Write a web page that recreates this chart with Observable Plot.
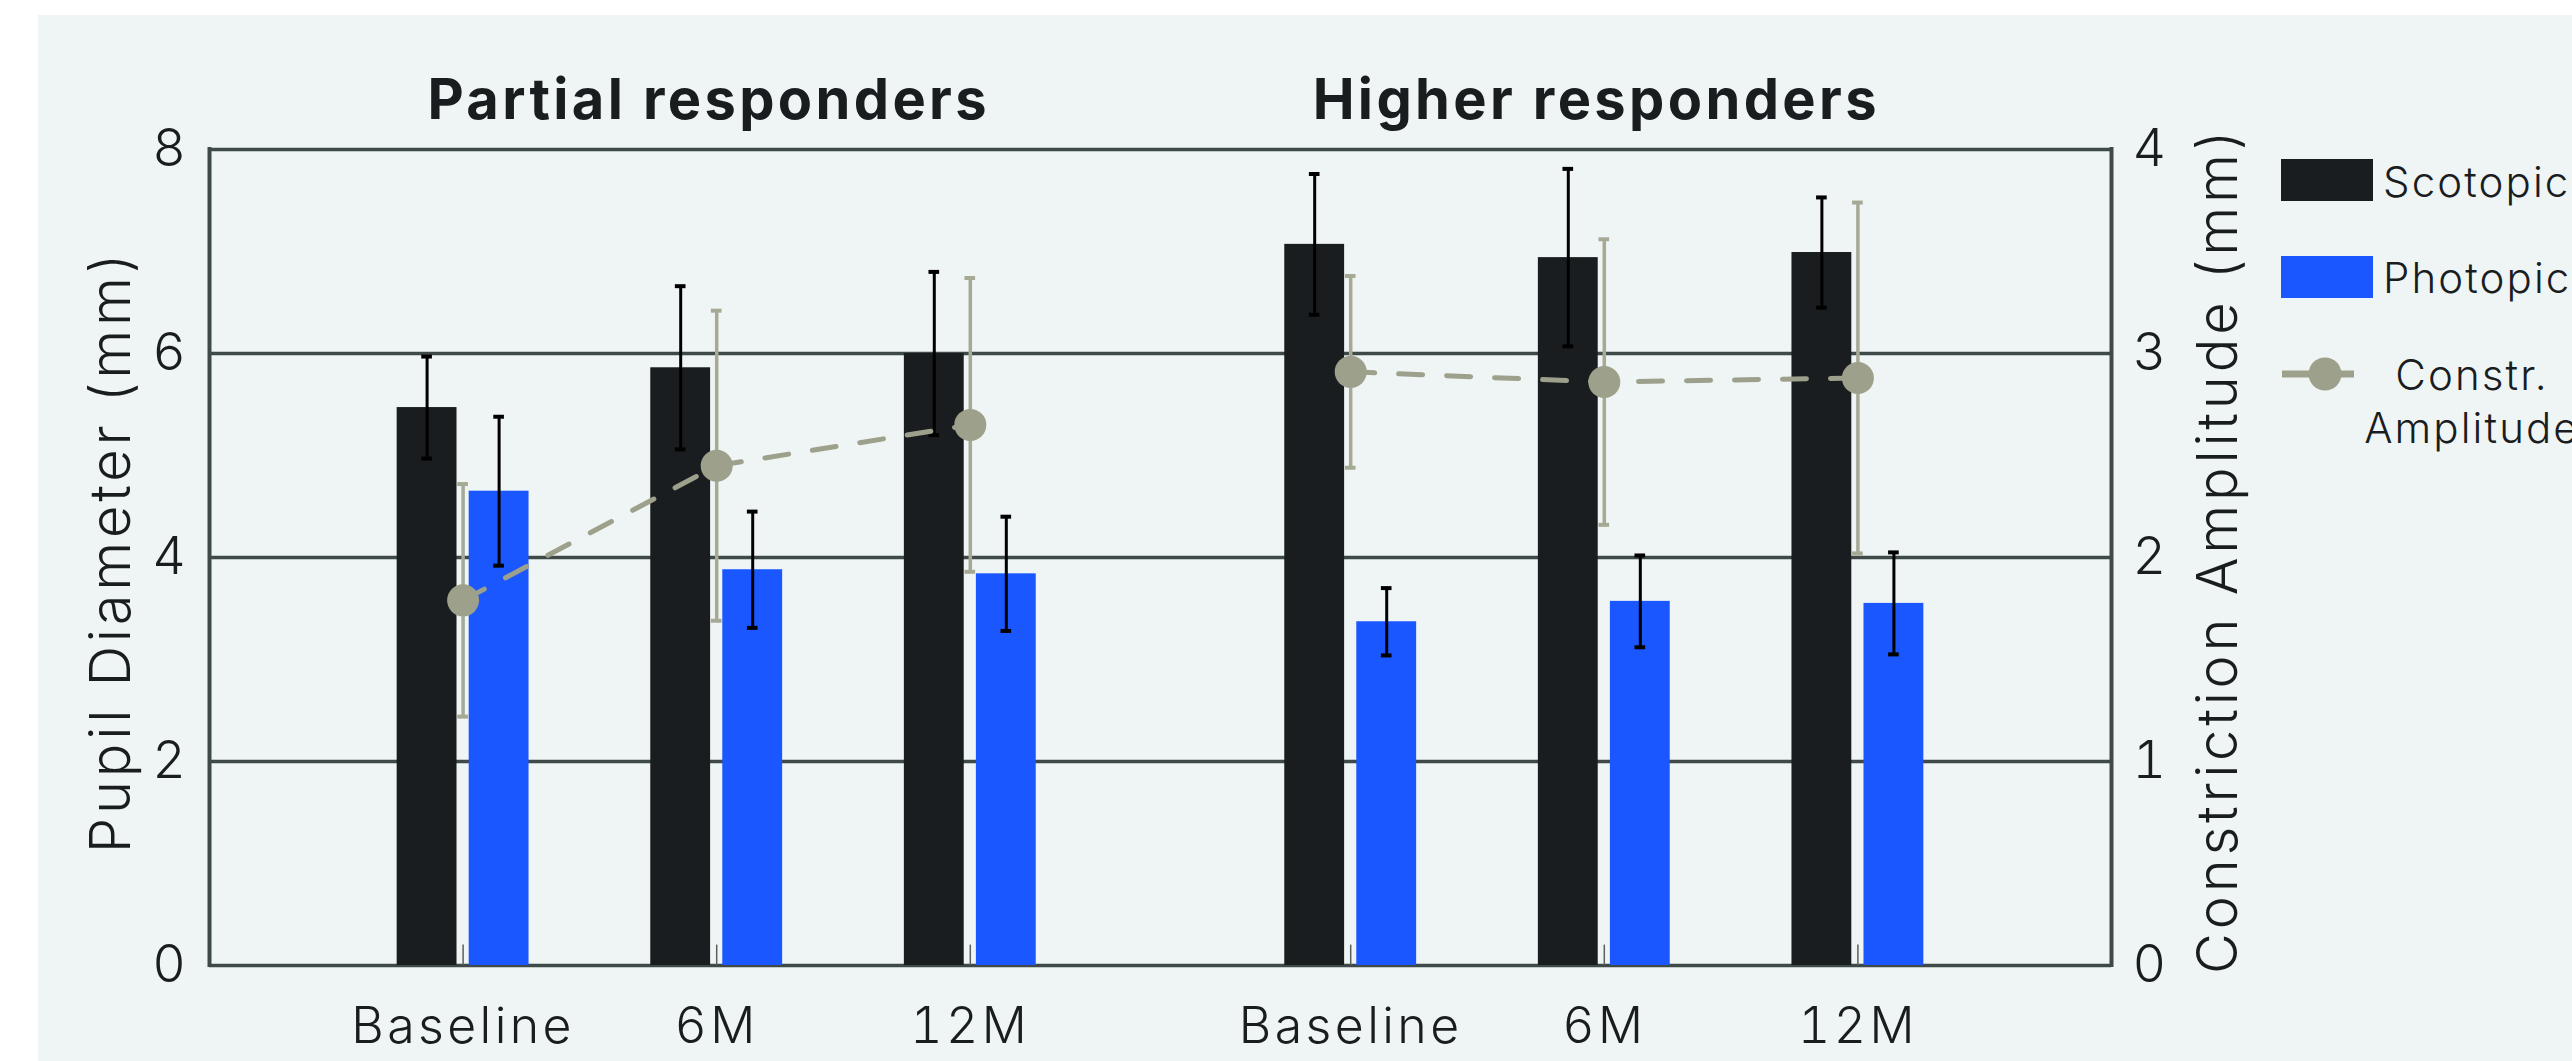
<!DOCTYPE html>
<html><head><meta charset="utf-8">
<script src="https://cdn.jsdelivr.net/npm/d3@7"></script>
<script src="https://cdn.jsdelivr.net/npm/@observablehq/plot@0.6"></script>
<style>
html,body{margin:0;padding:0;background:#fff;}
body{width:2572px;height:1061px;overflow:hidden;position:relative;font-family:Inter, "Noto Sans", sans-serif;}
#bg{position:absolute;left:38px;top:15px;right:0;bottom:0;background:#eff5f5;}
#chart{position:absolute;left:0;top:0;}
#legend{position:absolute;left:0;top:0;overflow:visible;}
</style></head><body>
<div id="bg"></div>
<div id="chart"></div>
<svg id="legend" width="2572" height="1061"></svg>
<script>
// ---- data ----
const groups = ["Partial responders", "Higher responders"];
const timepoints = ["Baseline", "6M", "12M"];
const seriesNames = ["Scotopic", "Photopic", "Constr. Amplitude"];
const scotopicMean = [5.47, 5.86, 6.00, 7.07, 6.94, 6.99];
const scotopicErr  = [0.50, 0.80, 0.80, 0.69, 0.87, 0.54];
const photopicMean = [4.65, 3.88, 3.84, 3.37, 3.57, 3.55];
const photopicErr  = [0.73, 0.57, 0.56, 0.33, 0.45, 0.50];
const constrMean   = [1.79, 2.45, 2.65, 2.91, 2.86, 2.88];
const constrErr    = [0.57, 0.76, 0.72, 0.47, 0.70, 0.86];
const leftTicks = [0, 2, 4, 6, 8];

// ---- style ----
const FONT = "Inter, 'Noto Sans', sans-serif";
const INK = "#1a1d1f";
const SCOT = "#1a1d1f", PHOT = "#1a57ff", GRAYC = "#9da08a", GRAYE = "#a6a994", GRID = "#3f4a48";
const AMP = 2;              // left-axis units per right-axis unit
const GROUP_GAP = 0.5;      // extra category slots between groups
const BW = 0.236, GAP = 0.024, CAP = 0.021;
const LIGHT = 300;

const rows = groups.flatMap((g, gi) => timepoints.map((t, ti) => {
  const i = gi * timepoints.length + ti;
  return {group: g, time: t, pos: gi * (timepoints.length + GROUP_GAP) + ti + 1,
    scot: scotopicMean[i], scotErr: scotopicErr[i],
    phot: photopicMean[i], photErr: photopicErr[i],
    constr: constrMean[i] * AMP, constrErr: constrErr[i] * AMP};
}));
const xMax = groups.length * (timepoints.length + GROUP_GAP) - GROUP_GAP + 1;
const groupCenters = groups.map(g => ({group: g, pos: d3.mean(rows.filter(r => r.group === g), r => r.pos)}));
const timeAt = new Map(rows.map(r => [r.pos, r.time]));

function errorBars(xf, mean, err, stroke, sw, capSw) {
  return [
    Plot.ruleX(rows, {x: xf, y1: d => mean(d) - err(d), y2: d => mean(d) + err(d), stroke, strokeWidth: sw}),
    Plot.ruleY(rows, {y: d => mean(d) + err(d), x1: d => xf(d) - CAP, x2: d => xf(d) + CAP, stroke, strokeWidth: capSw}),
    Plot.ruleY(rows, {y: d => mean(d) - err(d), x1: d => xf(d) - CAP, x2: d => xf(d) + CAP, stroke, strokeWidth: capSw})
  ];
}
const scotX = d => d.pos - GAP - BW / 2;
const photX = d => d.pos + GAP + BW / 2;

const chart = Plot.plot({
  width: 2572, height: 1061,
  marginLeft: 209, marginRight: 461, marginTop: 149, marginBottom: 96,
  style: {background: "transparent", fontFamily: FONT, color: INK, overflow: "visible"},
  x: {type: "linear", domain: [0, xMax]},
  y: {domain: [0, 8]},
  marks: [
    Plot.ruleY(leftTicks, {stroke: GRID, strokeWidth: 3.5}),
    Plot.ruleX([0, xMax], {stroke: GRID, strokeWidth: 4, strokeLinecap: "square"}),
    Plot.ruleX(rows, {x: "pos", y1: 0, y2: 0.2, stroke: "#5a605c", strokeWidth: 1.5}),
    Plot.rectY(rows, {x1: d => d.pos - GAP - BW, x2: d => d.pos - GAP, y1: 0, y2: "scot", fill: SCOT}),
    Plot.rectY(rows, {x1: d => d.pos + GAP, x2: d => d.pos + GAP + BW, y1: 0, y2: "phot", fill: PHOT}),
    ...errorBars(scotX, d => d.scot, d => d.scotErr, "#000", 3, 4),
    ...errorBars(photX, d => d.phot, d => d.photErr, "#000", 3, 4),
    ...errorBars(d => d.pos, d => d.constr, d => d.constrErr, GRAYE, 3.5, 4),
    Plot.line(rows, {x: "pos", y: "constr", z: "group", stroke: GRAYC, strokeWidth: 5, strokeDasharray: "24,24"}),
    Plot.dot(rows, {x: "pos", y: "constr", r: 16, fill: GRAYC}),
    Plot.axisY({anchor: "left", ticks: leftTicks, tickSize: 0, tickPadding: 20, fontSize: 52, fontWeight: LIGHT, label: null}),
    Plot.axisY({anchor: "right", ticks: leftTicks, tickFormat: d => d / AMP, tickSize: 0, tickPadding: 21, fontSize: 52, fontWeight: LIGHT, label: null}),
    Plot.axisX({ticks: rows.map(r => r.pos), tickFormat: d => timeAt.get(d), tickSize: 0, tickPadding: 42, fontSize: 50, fontWeight: LIGHT, label: null}),
    Plot.text(groupCenters, {x: "pos", y: 8, text: "group", dx: -8, dy: -48, lineAnchor: "middle", textAnchor: "middle", fontSize: 56, fontWeight: 700, fill: INK}),
    Plot.text(["Pupil Diameter (mm)"], {frameAnchor: "left", textAnchor: "middle", rotate: -90, dx: -119, dy: -6, lineAnchor: "top", fontSize: 56, fontWeight: LIGHT, fill: INK}),
    Plot.text(["Constriction Amplitude (mm)"], {frameAnchor: "right", textAnchor: "middle", rotate: -90, dx: 86, dy: -7, lineAnchor: "top", fontSize: 56, fontWeight: LIGHT, fill: INK})
  ]
});
document.getElementById("chart").appendChild(chart);

// ---- legend ----
const lg = d3.select("#legend").style("font-family", FONT).style("font-weight", LIGHT);
lg.append("rect").attr("x", 2281).attr("y", 159).attr("width", 92).attr("height", 42).attr("fill", SCOT);
lg.append("text").attr("x", 2383).attr("y", 197).attr("font-size", 42).attr("fill", INK).text(seriesNames[0]);
lg.append("rect").attr("x", 2281).attr("y", 256).attr("width", 92).attr("height", 42).attr("fill", PHOT);
lg.append("text").attr("x", 2383).attr("y", 293).attr("font-size", 42).attr("fill", INK).text(seriesNames[1]);
lg.append("line").attr("x1", 2282).attr("x2", 2354).attr("y1", 374).attr("y2", 374).attr("stroke", GRAYC).attr("stroke-width", 7);
lg.append("circle").attr("cx", 2325).attr("cy", 374).attr("r", 16.5).attr("fill", GRAYC);
const cl = seriesNames[2].split(" ");
lg.append("text").attr("x", 2472).attr("y", 390).attr("font-size", 42).attr("text-anchor", "middle").attr("fill", INK).text(cl[0]);
lg.append("text").attr("x", 2472).attr("y", 443).attr("font-size", 42).attr("text-anchor", "middle").attr("fill", INK).text(cl[1]);

// widen the lettering to match the reference typeface
d3.selectAll("#chart svg text").each(function () {
  const cs = getComputedStyle(this);
  const fs = parseFloat(cs.fontSize) || 40;
  const bold = parseInt(cs.fontWeight) >= 600;
  this.setAttribute("letter-spacing", (fs * (bold ? 0.06 : 0.068)).toFixed(2));
});
d3.selectAll("#legend text").attr("letter-spacing", (42 * 0.05).toFixed(2));
</script>
</body></html>
